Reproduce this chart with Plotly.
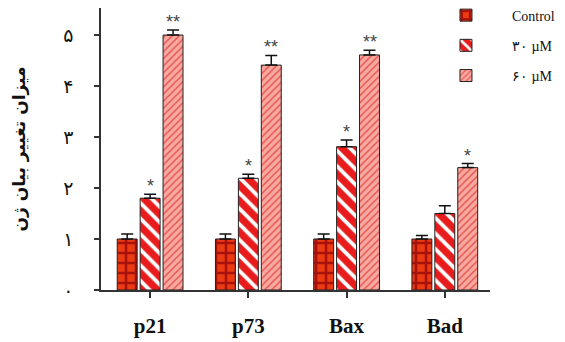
import plotly.graph_objects as go

categories = ["p21", "p73", "Bax", "Bad"]
series_names = ["Control", "۳۰ µM", "۶۰ µM"]
control = [1.0, 1.0, 1.0, 1.0]
control_err = [0.1, 0.1, 0.1, 0.07]
m30 = [1.8, 2.19, 2.81, 1.5]
m30_err = [0.08, 0.08, 0.13, 0.15]
m60 = [5.0, 4.41, 4.61, 2.4]
m60_err = [0.1, 0.19, 0.09, 0.08]
m30_sig = ["*", "*", "*", ""]
m60_sig = ["**", "**", "**", "*"]
y_tickvals = [0, 1, 2, 3, 4, 5]
y_ticktext = ["۰", "۱", "۲", "۳", "۴", "۵"]
y_title = "میزان تغییر بیان ژن"

styles = [
    dict(bg="#ec3a12", fg="#a8120c", shape="+", size=10, solidity=0.45),
    dict(bg="#e81c1c", fg="#ffffff", shape="\\", size=11, solidity=0.35),
    dict(bg="#f8aaa2", fg="#e65a52", shape="/", size=5, solidity=0.3),
]

fig = go.Figure()
for k, (name, vals, errs, st) in enumerate(zip(series_names, [control, m30, m60],
                                [control_err, m30_err, m60_err], styles)):
    fig.add_trace(go.Bar(
        x=categories, y=vals, name=name, legendgroup=f"g{k}",
        marker=dict(color=st["bg"],
                    line=dict(color="#222222", width=1),
                    pattern=dict(shape=st["shape"], fgcolor=st["fg"], bgcolor=st["bg"],
                                 size=st["size"], solidity=st["solidity"], fillmode="replace")),
        error_y=dict(type="data", array=errs, arrayminus=[0] * len(errs), symmetric=False,
                     color="#111111", thickness=1.5, width=6),
    ))

bargap = 0.30
slot = (1 - bargap) / 3
for j, (vals, errs, sig) in enumerate([(m30, m30_err, m30_sig), (m60, m60_err, m60_sig)]):
    off = slot * j
    for i, s in enumerate(sig):
        if s:
            fig.add_annotation(x=i + off, y=vals[i] + errs[i], text=s, showarrow=False,
                               yanchor="bottom", yshift=-4,
                               font=dict(family="Liberation Sans, Arial", size=18, color="#444444"))

fig.update_layout(
    width=557, height=334,
    margin=dict(l=93, r=75, t=0, b=52, autoexpand=False),
    paper_bgcolor="white", plot_bgcolor="white",
    barmode="group", bargap=bargap, bargroupgap=0.13,
    showlegend=True,
    legend=dict(x=0.82, y=1.03, xanchor="left", yanchor="top", xref="paper", yref="paper",
                font=dict(family="Liberation Serif, Times New Roman, serif", size=14, color="#111111"),
                itemwidth=82, tracegroupgap=9, bgcolor="rgba(0,0,0,0)"),
    xaxis=dict(type="category", range=[-0.5, 3.46], showline=True, linecolor="#333333", linewidth=1.5,
               ticks="outside", ticklen=6, tickcolor="#333333", tickwidth=1.5, automargin=False,
               ticklabelstandoff=10, showgrid=False, zeroline=False,
               tickfont=dict(family="Liberation Serif, Times New Roman, serif", size=21, color="#111111",
                             weight="bold")),
    yaxis=dict(range=[0, 5.53], showline=True, linecolor="#333333", linewidth=1.5,
               ticks="outside", ticklen=5, tickcolor="#333333", tickwidth=1.5, automargin=False,
               tickvals=y_tickvals, ticktext=y_ticktext, ticklabelstandoff=17,
               showgrid=False, zeroline=False,
               tickfont=dict(family="DejaVu Sans, sans-serif", size=19, color="#111111"),
               title=dict(text=y_title, standoff=33,
                          font=dict(family="DejaVu Sans, sans-serif", size=17, color="#111111",
                                    weight="bold"))),
)

fig.write_html("out.html")
